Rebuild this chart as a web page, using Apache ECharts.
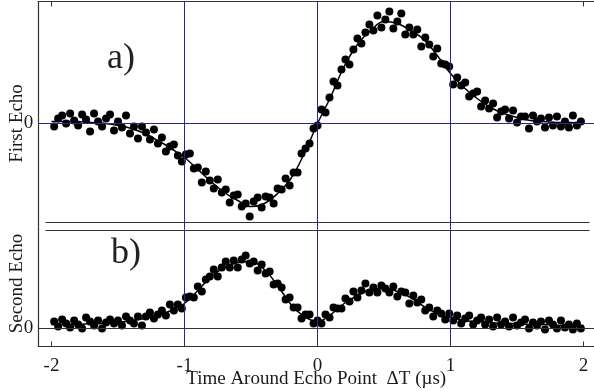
<!DOCTYPE html>
<html>
<head>
<meta charset="utf-8">
<script src="https://cdn.jsdelivr.net/npm/echarts@6/dist/echarts.min.js"></script>
<style>
  html, body { margin: 0; padding: 0; background: #fff; }
  #chart { width: 594px; height: 391px; }
</style>
</head>
<body>
<div id="chart"></div>
<script>
// sample times (µs) shared by both echoes
const times = [
  -1.98, -1.95, -1.92, -1.89, -1.86, -1.83, -1.80, -1.77, -1.74, -1.71,
  -1.68, -1.65, -1.62, -1.59, -1.56, -1.53, -1.50, -1.47, -1.44, -1.41,
  -1.38, -1.35, -1.32, -1.29, -1.26, -1.23, -1.20, -1.17, -1.14, -1.11,
  -1.08, -1.05, -1.02, -0.99, -0.96, -0.93, -0.90, -0.87, -0.84, -0.81,
  -0.78, -0.75, -0.72, -0.69, -0.66, -0.63, -0.60, -0.57, -0.54, -0.51,
  -0.48, -0.45, -0.42, -0.39, -0.36, -0.33, -0.30, -0.27, -0.24, -0.21,
  -0.18, -0.15, -0.12, -0.09, -0.06, -0.03, 0.00, 0.03, 0.06, 0.09,
  0.12, 0.15, 0.18, 0.21, 0.24, 0.27, 0.30, 0.33, 0.36, 0.39,
  0.42, 0.45, 0.48, 0.51, 0.54, 0.57, 0.60, 0.63, 0.66, 0.69,
  0.72, 0.75, 0.78, 0.81, 0.84, 0.87, 0.90, 0.93, 0.96, 0.99,
  1.02, 1.05, 1.08, 1.11, 1.14, 1.17, 1.20, 1.23, 1.26, 1.29,
  1.32, 1.35, 1.38, 1.41, 1.44, 1.47, 1.50, 1.53, 1.56, 1.59,
  1.62, 1.65, 1.68, 1.71, 1.74, 1.77, 1.80, 1.83, 1.86, 1.89,
  1.92, 1.95, 1.98
];

const firstEcho = [
  -0.03, 0.05, 0.08, 0.00, 0.10, 0.03, -0.02, 0.09, 0.04, -0.08,
  0.10, 0.02, -0.03, 0.05, 0.09, -0.07, 0.02, -0.04, 0.08, -0.10,
  -0.03, -0.15, -0.03, -0.09, -0.16, -0.06, -0.20, -0.14, -0.28, -0.23,
  -0.21, -0.32, -0.38, -0.31, -0.30, -0.45, -0.44, -0.59, -0.48, -0.57,
  -0.65, -0.56, -0.69, -0.66, -0.79, -0.72, -0.71, -0.83, -0.80, -0.93,
  -0.78, -0.74, -0.84, -0.73, -0.74, -0.80, -0.65, -0.66, -0.55, -0.62,
  -0.49, -0.49, -0.30, -0.25, -0.20, -0.05, -0.02, 0.14, 0.11, 0.26,
  0.42, 0.38, 0.54, 0.64, 0.59, 0.74, 0.85, 0.80, 0.91, 0.99,
  0.93, 1.08, 0.96, 1.04, 1.12, 0.95, 1.02, 1.10, 0.89, 0.96,
  0.89, 0.94, 0.77, 0.86, 0.79, 0.67, 0.75, 0.60, 0.59, 0.57,
  0.39, 0.46, 0.38, 0.41, 0.27, 0.30, 0.32, 0.17, 0.23, 0.15,
  0.20, 0.06, 0.12, 0.14, 0.05, 0.13, 0.01, 0.07, 0.07, -0.05,
  0.08, 0.02, 0.05, -0.04, 0.06, -0.02, 0.07, -0.03, 0.02, -0.04,
  0.08, -0.02, 0.02
];

const secondEcho = [
  0.07, 0.02, 0.09, 0.05, 0.01, 0.08, 0.04, 0.00, 0.11, 0.07,
  0.03, 0.08, 0.00, 0.06, 0.09, 0.05, 0.08, 0.03, 0.12, 0.08,
  0.05, 0.12, 0.03, 0.12, 0.16, 0.10, 0.14, 0.18, 0.13, 0.24,
  0.18, 0.24, 0.20, 0.31, 0.32, 0.31, 0.42, 0.37, 0.49, 0.52,
  0.59, 0.52, 0.61, 0.67, 0.61, 0.68, 0.61, 0.69, 0.73, 0.65,
  0.67, 0.58, 0.64, 0.55, 0.57, 0.44, 0.45, 0.41, 0.29, 0.31,
  0.21, 0.21, 0.10, 0.14, 0.14, 0.05, 0.08, 0.05, 0.14, 0.11,
  0.21, 0.20, 0.20, 0.30, 0.27, 0.37, 0.31, 0.38, 0.45, 0.36,
  0.41, 0.36, 0.43, 0.40, 0.36, 0.42, 0.32, 0.37, 0.36, 0.25,
  0.33, 0.26, 0.29, 0.18, 0.21, 0.12, 0.18, 0.15, 0.09, 0.15,
  0.08, 0.13, 0.05, 0.10, 0.13, 0.04, 0.08, 0.11, 0.04, 0.09,
  0.02, 0.11, 0.04, 0.07, 0.02, 0.11, 0.03, 0.06, 0.09, 0.00,
  0.06, 0.03, 0.07, -0.01, 0.08, 0.04, 0.00, 0.08, 0.01, 0.04,
  -0.01, 0.05, 0.00
];

// fitted curves, sampled every 0.1 µs
const fitTimes = [
  -2.0, -1.9, -1.8, -1.7, -1.6, -1.5, -1.4, -1.3, -1.2, -1.1,
  -1.0, -0.9, -0.8, -0.7, -0.6, -0.5, -0.4, -0.3, -0.2, -0.1,
  0.0, 0.1, 0.2, 0.3, 0.4, 0.5, 0.6, 0.7, 0.8, 0.9,
  1.0, 1.1, 1.2, 1.3, 1.4, 1.5, 1.6, 1.7, 1.8, 1.9, 2.0
];
const firstFit = [
  0.02, 0.02, 0.02, 0.01, 0.00, -0.02, -0.05, -0.10, -0.17, -0.25,
  -0.34, -0.46, -0.58, -0.69, -0.77, -0.83, -0.80, -0.70, -0.55, -0.30,
  0.00, 0.27, 0.57, 0.79, 0.93, 1.02, 1.00, 0.93, 0.84, 0.68,
  0.50, 0.36, 0.25, 0.16, 0.10, 0.06, 0.03, 0.02, 0.01, 0.01, 0.00
];
const secondFit = [
  0.04, 0.04, 0.04, 0.05, 0.05, 0.06, 0.08, 0.10, 0.13, 0.18,
  0.25, 0.38, 0.52, 0.61, 0.66, 0.67, 0.59, 0.43, 0.24, 0.12,
  0.07, 0.14, 0.25, 0.33, 0.39, 0.40, 0.37, 0.31, 0.22, 0.15,
  0.11, 0.08, 0.07, 0.06, 0.05, 0.05, 0.04, 0.04, 0.03, 0.03, 0.03
];

const tickValues = [-2, -1, 0, 1, 2];
const guideTimes = [-1, 0, 1];
const sepTimes = [-2.045, 2.045];
const timeRange = [-2.1, 2.08];
const firstRange = [-1.06, 1.22];
const secondRange = [-0.18, 0.99];

const serif = '"Liberation Serif", "DejaVu Serif", serif';
const ink = '#1a1a1a';
const navy = '#26268e';
const rule = '#333';

const chart = echarts.init(document.getElementById('chart'));

function pairs(xs, ys) {
  return xs.map((x, i) => [x, ys[i]]);
}

function segment(a, b) {
  return [{ coord: a }, { coord: b }];
}

// blue vertical guides spanning the panel (plus the zero line for the top panel)
function blueGuides(yRange, withZero) {
  const data = guideTimes.map(t => segment([t, yRange[0]], [t, yRange[1]]));
  if (withZero) data.push(segment([timeRange[0], 0], [timeRange[1], 0]));
  return {
    silent: true,
    symbol: 'none',
    label: { show: false },
    lineStyle: { type: 'solid', color: navy, width: 1 },
    data: data
  };
}

// separator line at the panel gap (plus the black zero line for the bottom panel)
function blackGuides(sepY, withZero) {
  const data = [segment([sepTimes[0], sepY], [sepTimes[1], sepY])];
  if (withZero) data.push(segment([timeRange[0], 0], [timeRange[1], 0]));
  return {
    silent: true,
    symbol: 'none',
    label: { show: false },
    lineStyle: { type: 'solid', color: rule, width: 1.2 },
    data: data
  };
}

const xCommon = {
  type: 'value',
  min: timeRange[0],
  max: timeRange[1],
  splitLine: { show: false },
  axisLine: { show: true, onZero: false, lineStyle: { color: rule, width: 1.2 } },
  axisTick: { show: true, inside: true, length: 5, customValues: tickValues, lineStyle: { color: rule } }
};

const yCommon = {
  type: 'value',
  splitLine: { show: false },
  axisLine: { show: true, onZero: false, lineStyle: { color: rule, width: 1.2 } },
  axisTick: { show: false },
  axisLabel: { customValues: [0], margin: 5, color: ink, fontFamily: serif, fontSize: 19 },
  nameLocation: 'middle',
  nameGap: 12,
  nameMoveOverlap: false
};

const option = {
  animation: false,
  backgroundColor: '#fff',
  grid: [
    { left: 38.2, top: 1.5, width: 556, height: 228, outerBoundsMode: 'none', containLabel: false },
    { left: 38.2, top: 229.5, width: 556, height: 117, outerBoundsMode: 'none', containLabel: false }
  ],
  xAxis: [
    Object.assign({}, xCommon, {
      gridIndex: 0,
      position: 'top',
      axisLabel: { show: false }
    }),
    Object.assign({}, xCommon, {
      gridIndex: 1,
      position: 'bottom',
      axisLabel: {
        customValues: tickValues,
        margin: 10,
        color: ink,
        fontFamily: serif,
        fontSize: 19
      },
      name: 'Time Around Echo Point  \u0394T (\u00b5s)',
      nameLocation: 'middle',
      nameGap: 23,
      nameMoveOverlap: false,
      nameTextStyle: { color: ink, fontFamily: serif, fontSize: 19 }
    })
  ],
  yAxis: [
    Object.assign({}, yCommon, {
      gridIndex: 0,
      min: firstRange[0],
      max: firstRange[1],
      name: 'First Echo',
      nameTextStyle: { color: ink, fontFamily: serif, fontSize: 19, padding: [0, 16, 0, 0] }
    }),
    Object.assign({}, yCommon, {
      gridIndex: 1,
      min: secondRange[0],
      max: secondRange[1],
      name: 'Second Echo',
      nameTextStyle: { color: ink, fontFamily: serif, fontSize: 19, padding: [0, 0, 0, 9] }
    })
  ],
  graphic: [
    { type: 'text', left: 107, top: 41, style: { text: 'a)', font: '36px ' + serif, fill: '#222' } },
    { type: 'text', left: 111, top: 236, style: { text: 'b)', font: '36px ' + serif, fill: '#222' } }
  ],
  series: [
    {
      type: 'line',
      xAxisIndex: 0,
      yAxisIndex: 0,
      data: pairs(fitTimes, firstFit),
      smooth: 0.4,
      showSymbol: false,
      lineStyle: { color: '#000', width: 1.5 },
      z: 3,
      markLine: blackGuides(-0.99, false)
    },
    {
      type: 'scatter',
      xAxisIndex: 0,
      yAxisIndex: 0,
      data: pairs(times, firstEcho),
      symbolSize: 8,
      itemStyle: { color: '#000', opacity: 1 },
      z: 4,
      markLine: blueGuides(firstRange, true)
    },
    {
      type: 'line',
      xAxisIndex: 1,
      yAxisIndex: 1,
      data: pairs(fitTimes, secondFit),
      smooth: 0.4,
      showSymbol: false,
      lineStyle: { color: '#000', width: 1.5 },
      z: 3,
      markLine: blackGuides(0.98, true)
    },
    {
      type: 'scatter',
      xAxisIndex: 1,
      yAxisIndex: 1,
      data: pairs(times, secondEcho),
      symbolSize: 8,
      itemStyle: { color: '#000', opacity: 1 },
      z: 4,
      markLine: blueGuides(secondRange, false)
    }
  ]
};

chart.setOption(option);
</script>
</body>
</html>
